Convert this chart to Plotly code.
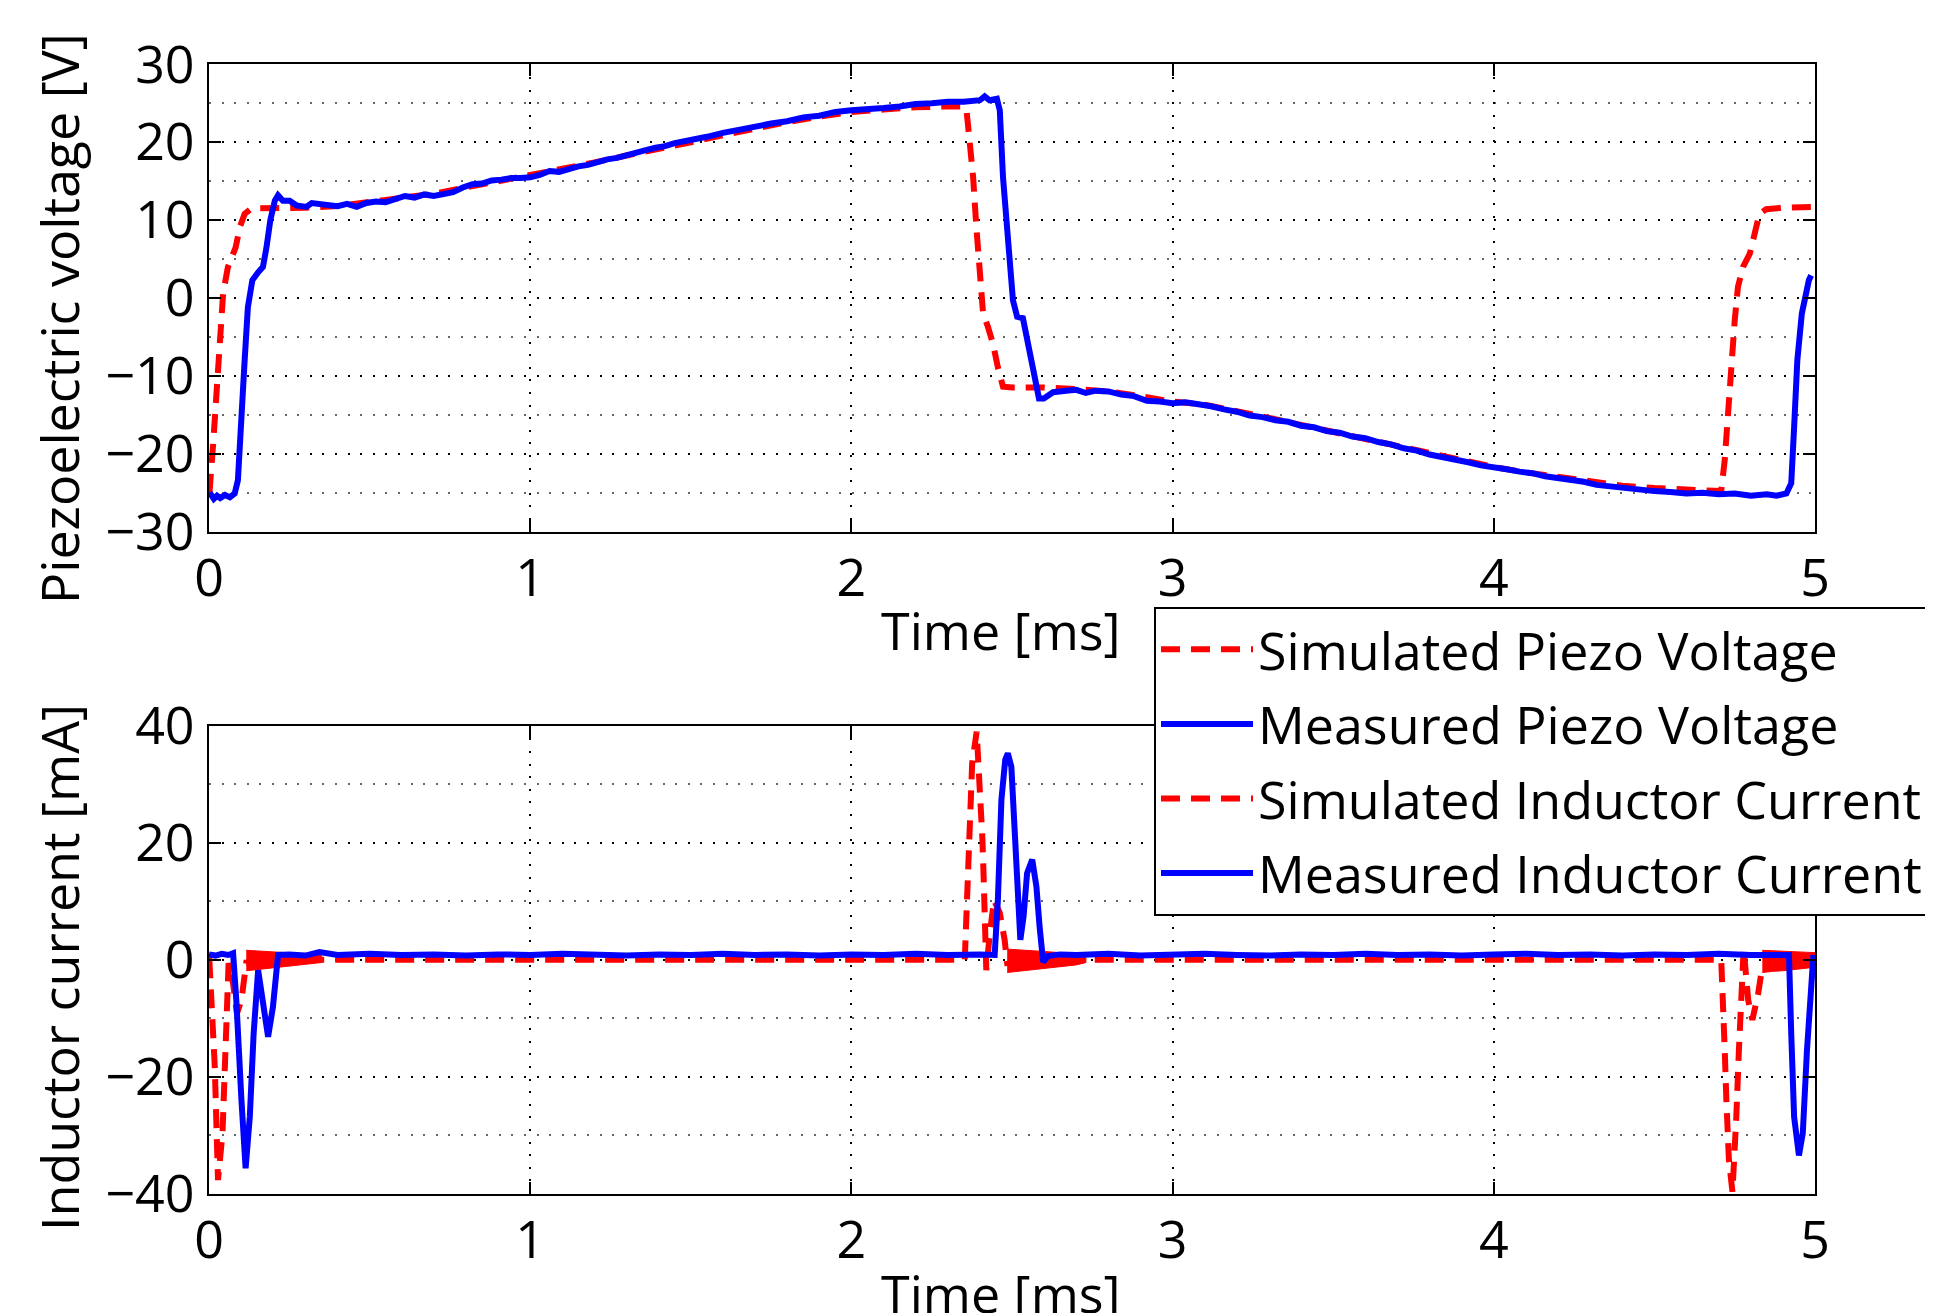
import plotly.graph_objects as go

# ---------------- data ----------------
sim_v_t = [0.000, 0.002, 0.013, 0.023, 0.033, 0.044, 0.059, 0.083, 0.096, 0.111, 0.132, 0.20, 0.30,
           0.40, 0.50, 0.60, 0.70, 0.80, 0.90, 1.00, 1.10, 1.20, 1.30, 1.40, 1.50, 1.60, 1.70, 1.80,
           1.90, 2.00, 2.10, 2.20, 2.30, 2.345, 2.358, 2.368, 2.379, 2.389, 2.399, 2.410, 2.425,
           2.441, 2.456, 2.472, 2.503, 2.60, 2.70, 2.80, 2.90, 3.00, 3.10, 3.20, 3.30, 3.40, 3.50,
           3.60, 3.70, 3.80, 3.90, 4.00, 4.10, 4.20, 4.30, 4.40, 4.50, 4.60, 4.708, 4.719, 4.729,
           4.740, 4.750, 4.760, 4.776, 4.797, 4.812, 4.827, 4.848, 4.90, 5.00]
sim_v = [-25.0, -24.7, -18.7, -12.3, -5.9, 0.6, 4.0, 6.5, 9.1, 10.8, 11.5, 11.5, 11.6,
         11.8, 12.3, 12.8, 13.4, 14.2, 15.0, 15.7, 16.5, 17.4, 18.3, 19.1, 20.0, 20.9, 21.8, 22.6,
         23.3, 23.9, 24.2, 24.5, 24.6, 24.6, 24.3, 20.2, 15.5, 9.1, 2.7, -2.0, -3.7,
         -5.9, -8.9, -11.4, -11.5, -11.5, -11.7, -12.0, -12.6, -13.3, -13.7, -14.5, -15.4, -16.3, -17.2,
         -18.1, -19.0, -20.0, -20.9, -21.7, -22.4, -23.0, -23.6, -24.1, -24.4, -24.6, -24.8, -20.8, -14.4,
         -8.0, -2.9, 1.4, 4.0, 5.7, 8.3, 10.8, 11.4, 11.6, 11.7]

meas_v_t = [0.000, 0.007, 0.015, 0.025, 0.035, 0.050, 0.065, 0.080, 0.090, 0.101, 0.111, 0.121,
            0.135, 0.153, 0.168, 0.179, 0.191, 0.205, 0.215, 0.230, 0.251, 0.272, 0.303, 0.320,
            0.350, 0.38, 0.40, 0.43, 0.46, 0.49, 0.52, 0.55, 0.58, 0.61, 0.64, 0.67, 0.70, 0.73,
            0.76, 0.79, 0.82, 0.85, 0.88, 0.91, 0.94, 0.97, 1.00, 1.03, 1.06, 1.09, 1.12, 1.15,
            1.18, 1.21, 1.24, 1.27, 1.30, 1.33, 1.36, 1.39, 1.42, 1.45, 1.48, 1.51, 1.55, 1.60,
            1.65, 1.70, 1.75, 1.80, 1.85, 1.90, 1.95, 2.00, 2.05, 2.10, 2.15, 2.20, 2.25, 2.30,
            2.35, 2.40, 2.415, 2.43, 2.453, 2.462, 2.472, 2.483, 2.493, 2.503, 2.516, 2.534, 2.550,
            2.565, 2.584, 2.599, 2.628, 2.669, 2.70, 2.73, 2.76, 2.80, 2.84, 2.88, 2.92, 2.96,
            3.00, 3.04, 3.08, 3.12, 3.16, 3.20, 3.24, 3.28, 3.32, 3.36, 3.40, 3.44, 3.48, 3.52,
            3.56, 3.60, 3.64, 3.68, 3.72, 3.76, 3.80, 3.84, 3.88, 3.92, 3.96, 4.00, 4.04, 4.08,
            4.12, 4.16, 4.20, 4.24, 4.28, 4.32, 4.36, 4.40, 4.45, 4.50, 4.55, 4.60, 4.65, 4.70,
            4.75, 4.80, 4.85, 4.88, 4.911, 4.926, 4.935, 4.945, 4.959, 4.971, 4.981, 4.988]
meas_v = [-25.5, -25.3, -25.8, -25.4, -25.7, -25.3, -25.6, -25.1, -23.4, -16.6, -8.0, -1.2,
          2.3, 3.3, 4.0, 6.5, 10.0, 12.5, 13.2, 12.5, 12.5, 11.9, 11.7, 12.2,
          12.1, 12.0, 11.8, 12.1, 11.7, 12.2, 12.4, 12.3, 12.8, 13.1, 12.9, 13.3, 13.1, 13.3,
          13.6, 14.2, 14.6, 14.7, 15.1, 15.2, 15.4, 15.4, 15.5, 15.8, 16.3, 16.2, 16.6, 16.9,
          17.1, 17.5, 17.8, 18.0, 18.4, 18.7, 19.0, 19.3, 19.5, 19.9, 20.1, 20.4, 20.7, 21.2,
          21.6, 22.1, 22.4, 22.7, 23.2, 23.4, 23.9, 24.1, 24.2, 24.4, 24.6, 24.9, 25.0, 25.2,
          25.2, 25.4, 25.9, 25.4, 25.6, 24.1, 15.5, 9.1, 4.8, -0.3, -2.4, -2.6, -5.9,
          -9.3, -12.9, -12.9, -12.1, -11.9, -11.8, -12.2, -11.9, -12.0, -12.4, -12.6, -13.2, -13.3,
          -13.5, -13.4, -13.6, -13.9, -14.3, -14.6, -15.1, -15.3, -15.7, -15.9, -16.4, -16.6, -17.1, -17.3,
          -17.8, -18.0, -18.5, -18.8, -19.3, -19.6, -20.1, -20.4, -20.8, -21.1, -21.5, -21.7, -22.0, -22.3,
          -22.5, -22.9, -23.1, -23.4, -23.6, -24.0, -24.2, -24.4, -24.7, -24.8, -24.9, -25.1, -25.0, -25.2,
          -25.1, -25.4, -25.2, -25.4, -25.1, -23.8, -16.6, -8.0, -2.0, 0.6, 2.3, 2.9]

# simulated inductor current: main (dashed) waveform
sim_i_t = [0.000, 0.001, 0.018, 0.028, 0.042, 0.052, 0.061, 0.075, 0.087, 0.101, 0.116, 0.35,
           2.353, 2.356, 2.363, 2.366, 2.370, 2.376, 2.390, 2.397, 2.401, 2.408, 2.412, 2.415,
           2.420, 2.431, 2.444, 2.462, 2.477, 2.485, 2.75,
           4.708, 4.714, 4.719, 4.724, 4.732, 4.743, 4.750, 4.755, 4.763, 4.769, 4.774, 4.778,
           4.792, 4.805, 4.823, 4.836, 5.000]
sim_i = [0.0, 0.0, -18.3, -37.7, -29.7, -12.6, -0.6, -4.1, -9.2, -6.9, -0.5, 0.0,
         0.0, 4.5, 14.8, 22.8, 27.9, 33.6, 39.0, 33.0, 27.3, 20.5, 13.6, 7.4,
         -1.8, 4.5, 10.2, 8.0, 3.4, -0.6, 0.0,
         0.0, -6.9, -15.5, -24.0, -34.3, -39.7, -34.3, -26.9, -15.5, -5.8, -1.2, 1.9,
         -6.9, -10.3, -5.8, -1.2, 0.0]

# simulated inductor current: envelope of the dense high-frequency ripple (solid red blocks)
band1_t = [0.116, 0.15, 0.20, 0.25, 0.30, 0.35]
band1_top = [1.6, 1.5, 1.3, 1.2, 1.0, 0.7]
band1_bot = [-1.9, -1.7, -1.4, -1.1, -0.8, -0.5]
band2_t = [2.485, 2.52, 2.56, 2.60, 2.65, 2.70, 2.73]
band2_top = [1.8, 1.7, 1.6, 1.4, 1.2, 1.0, 0.6]
band2_bot = [-2.2, -2.0, -1.8, -1.5, -1.2, -0.9, -0.5]
band3_t = [4.836, 4.87, 4.90, 4.94, 4.97, 5.0]
band3_top = [1.6, 1.5, 1.5, 1.4, 1.3, 1.2]
band3_bot = [-2.2, -2.0, -1.9, -1.7, -1.5, -1.3]

meas_i_t = [0.000, 0.02, 0.04, 0.06, 0.075, 0.085, 0.101, 0.114, 0.127, 0.139, 0.153, 0.168,
            0.184, 0.199, 0.215, 0.25, 0.30, 0.344, 0.40, 0.50, 0.60, 0.70, 0.80, 0.90, 1.00,
            1.10, 1.20, 1.30, 1.40, 1.50, 1.60, 1.70, 1.80, 1.90, 2.00, 2.10, 2.20, 2.30, 2.40,
            2.446, 2.456, 2.467, 2.479, 2.487, 2.498, 2.508, 2.519, 2.526, 2.536, 2.547, 2.563,
            2.576, 2.586, 2.597, 2.612, 2.65, 2.70, 2.80, 2.90, 3.00, 3.10, 3.20, 3.30, 3.40,
            3.50, 3.60, 3.70, 3.80, 3.90, 4.00, 4.10, 4.20, 4.30, 4.40, 4.50, 4.60, 4.70, 4.80,
            4.90, 4.919, 4.926, 4.935, 4.950, 4.962, 4.975, 4.986, 4.995]
meas_i = [0.9, 0.7, 1.0, 0.8, 1.1, -6.9, -24.0, -35.7, -26.9, -12.6, -1.8, -6.9,
          -13.2, -8.1, 0.8, 0.9, 0.7, 1.3, 0.8, 1.0, 0.8, 0.9, 0.7, 0.9, 0.8,
          1.0, 0.8, 0.7, 0.9, 0.8, 1.0, 0.8, 0.9, 0.7, 0.9, 0.8, 1.0, 0.8, 0.9,
          0.8, 10.2, 27.3, 34.2, 35.3, 33.0, 21.6, 9.1, 3.4, 7.4, 14.8, 17.1,
          12.5, 5.6, -0.4, 0.6, 0.9, 0.8, 1.0, 0.7, 0.9, 1.0, 0.8, 0.7, 0.9,
          0.8, 1.0, 0.8, 0.9, 0.7, 0.9, 1.0, 0.8, 0.9, 0.7, 0.9, 0.8, 1.0, 0.8,
          0.9, 0.8, -12.6, -26.9, -33.5, -29.7, -15.5, -4.1, 0.8]

x_ticks = [0, 1, 2, 3, 4, 5]
v_ticks = [-30, -20, -10, 0, 10, 20, 30]
i_ticks = [-40, -20, 0, 20, 40]

# ---------------- figure ----------------
OFF = 8                       # default page body margin
W, H = 1933 - OFF, 1313 - OFF
FONT = "Open Sans"
FS = 52
RED = "#ff0000"
BLUE = "#0000ff"
LW = 6
DASH = "19px,11px"


def px(X):
    return (X - OFF) / W


def py(Y):
    return 1 - (Y - OFF) / H


# ripple envelopes as closed polygons (separated by gaps)
band_x, band_y = [], []
for bt, btop, bbot in ((band1_t, band1_top, band1_bot),
                       (band2_t, band2_top, band2_bot),
                       (band3_t, band3_top, band3_bot)):
    band_x += bt + bt[::-1] + [None]
    band_y += btop + bbot[::-1] + [None]

fig = go.Figure()
fig.add_trace(go.Scatter(x=sim_v_t, y=sim_v, mode="lines", name="Simulated Piezo Voltage",
                         legendgroup="g1",
                         line=dict(color=RED, width=LW, dash=DASH), xaxis="x", yaxis="y"))
fig.add_trace(go.Scatter(x=meas_v_t, y=meas_v, mode="lines", name="Measured Piezo Voltage",
                         legendgroup="g2",
                         line=dict(color=BLUE, width=LW), xaxis="x", yaxis="y"))
fig.add_trace(go.Scatter(x=sim_i_t, y=sim_i, mode="lines", name="Simulated Inductor Current",
                         legendgroup="g3",
                         line=dict(color=RED, width=LW, dash=DASH), xaxis="x2", yaxis="y2"))
fig.add_trace(go.Scatter(x=band_x, y=band_y, mode="lines", name="Simulated Inductor Current",
                         legendgroup="g3", showlegend=False, fill="toself", fillcolor=RED,
                         line=dict(color=RED, width=1), xaxis="x2", yaxis="y2"))
fig.add_trace(go.Scatter(x=meas_i_t, y=meas_i, mode="lines", name="Measured Inductor Current",
                         legendgroup="g4",
                         line=dict(color=BLUE, width=LW), xaxis="x2", yaxis="y2"))

x_dom = [px(209), px(1815)]
top_dom = [py(531.6), py(64.4)]
bot_dom = [py(1193.5), py(725.8)]

common_x = dict(range=[0, 5], tickvals=x_ticks, ticks="inside", ticklen=12, tickwidth=1.5,
                tickcolor="black", showline=True, linecolor="black", linewidth=2, mirror="ticks",
                showgrid=True, gridcolor="black", gridwidth=1.5, griddash="2px,10.6px",
                zeroline=False, tickfont=dict(family=FONT, size=FS, color="black"),
                ticklabelstandoff=0)
common_y = dict(ticks="inside", ticklen=12, tickwidth=1.5, tickcolor="black", showline=True,
                linecolor="black", linewidth=2, mirror="ticks", showgrid=True, gridcolor="black",
                gridwidth=2, griddash="2px,10.6px", zeroline=False,
                tickfont=dict(family=FONT, size=FS, color="black"), ticklabelstandoff=2)

fig.update_layout(
    width=W, height=H, paper_bgcolor="white", plot_bgcolor="white",
    margin=dict(l=0, r=0, t=0, b=0, autoexpand=False),
    xaxis=dict(domain=x_dom, anchor="y", **common_x),
    yaxis=dict(domain=top_dom, anchor="x", range=[-30, 30], tickvals=v_ticks,
               minor=dict(dtick=5, tick0=0, showgrid=True, gridcolor="#666666", gridwidth=1.5,
                          griddash="2px,10.6px", ticks=""), **common_y),
    xaxis2=dict(domain=x_dom, anchor="y2", **common_x),
    yaxis2=dict(domain=bot_dom, anchor="x2", range=[-40, 40], tickvals=i_ticks,
                minor=dict(dtick=10, tick0=0, showgrid=True, gridcolor="#666666", gridwidth=1.5,
                           griddash="2px,10.6px", ticks=""), **common_y),
    legend=dict(x=px(1154), y=py(607), xanchor="left", yanchor="top",
                bgcolor="white", bordercolor="black", borderwidth=2,
                font=dict(family=FONT, size=FS, color="black"), traceorder="grouped",
                tracegroupgap=4, itemwidth=92),
    showlegend=True,
)

ann_font = dict(family=FONT, size=FS, color="black")
fig.add_annotation(text="Piezoelectric voltage [V]", x=px(58), y=py(319), xref="paper",
                   yref="paper", showarrow=False, textangle=-90, font=ann_font,
                   xanchor="center", yanchor="middle")
fig.add_annotation(text="Inductor current [mA]", x=px(58), y=py(968), xref="paper",
                   yref="paper", showarrow=False, textangle=-90, font=ann_font,
                   xanchor="center", yanchor="middle")
fig.add_annotation(text="Time [ms]", x=px(1001), y=py(629), xref="paper", yref="paper",
                   showarrow=False, font=ann_font, xanchor="center", yanchor="middle")
fig.add_annotation(text="Time [ms]", x=px(1001), y=py(1292), xref="paper", yref="paper",
                   showarrow=False, font=ann_font, xanchor="center", yanchor="middle")

fig.write_html("out.html")
